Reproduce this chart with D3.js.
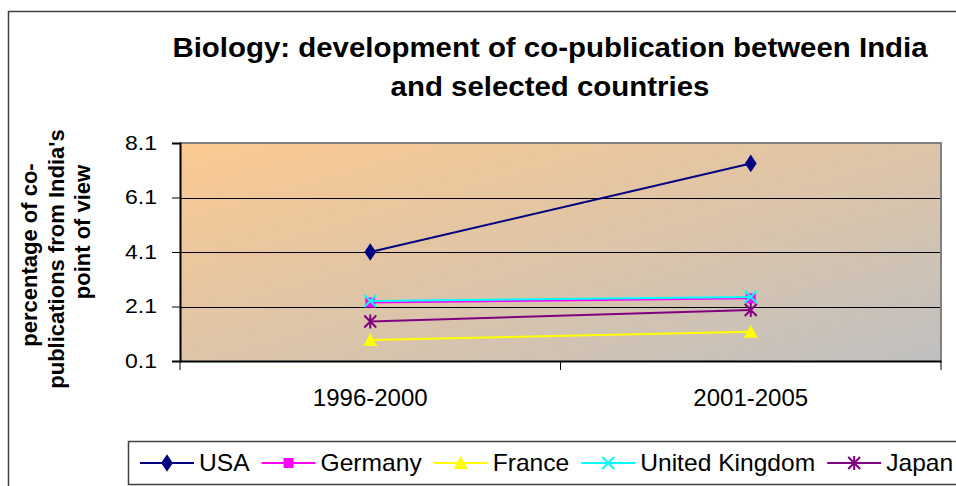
<!DOCTYPE html>
<html>
<head>
<meta charset="utf-8">
<script src="https://cdn.jsdelivr.net/npm/d3@7"></script>
<style>
  body { margin: 0; background: #fff; }
  text { font-family: "Liberation Sans", Arial, sans-serif; }
</style>
</head>
<body>
<div id="chart"></div>
<script>
// Data
const categories = ["1996-2000", "2001-2005"];
const usa = [4.1, 7.35];
const germany = [2.25, 2.4];
const france = [0.87, 1.17];
const uk = [2.3, 2.45];
const japan = [1.55, 1.97];
const yTicks = [0.1, 2.1, 4.1, 6.1, 8.1];

const series = [
    { name: "USA", values: usa, color: "#000080", marker: "diamond" },
    { name: "Germany", values: germany, color: "#FF00FF", marker: "square" },
    { name: "France", values: france, color: "#FFFF00", marker: "triangle" },
    { name: "United Kingdom", values: uk, color: "#00FFFF", marker: "x" },
    { name: "Japan", values: japan, color: "#800080", marker: "star" }
];

const W = 956, H = 486;
const plot = { left: 180, right: 941, top: 143, bottom: 361 };
// the original picture is a bit stretched sideways
const stretch = 1.09;

const svg = d3.select("#chart").append("svg")
    .attr("width", W)
    .attr("height", H);

// gradient for the plot area
const defs = svg.append("defs");
const grad = defs.append("linearGradient")
    .attr("id", "bg")
    .attr("x1", 0).attr("y1", 0).attr("x2", 1).attr("y2", 1);
grad.append("stop").attr("offset", "0%").attr("stop-color", "#FBC990");
grad.append("stop").attr("offset", "100%").attr("stop-color", "#C0C0C0");

// outer chart frame (runs off the right and bottom edges)
svg.append("rect")
    .attr("x", 8.5).attr("y", 11.5)
    .attr("width", 1000).attr("height", 600)
    .attr("fill", "none")
    .attr("stroke", "#404040")
    .attr("stroke-width", 1.5);

// scales
const x = d3.scaleBand()
    .domain(categories)
    .range([plot.left, plot.right]);

const y = d3.scaleLinear()
    .domain([0.1, 8.1])
    .range([plot.bottom, plot.top]);

// plot background
svg.append("rect")
    .attr("x", plot.left).attr("y", plot.top)
    .attr("width", plot.right - plot.left)
    .attr("height", plot.bottom - plot.top)
    .attr("fill", "url(#bg)");

// gridlines
svg.append("g")
    .selectAll("line")
    .data(yTicks)
    .join("line")
    .attr("x1", plot.left).attr("x2", plot.right)
    .attr("y1", d => Math.round(y(d)) + 0.5)
    .attr("y2", d => Math.round(y(d)) + 0.5)
    .attr("stroke", "#000")
    .attr("stroke-width", 1);

// plot border top/right in gray
svg.append("path")
    .attr("d", `M${plot.left},${plot.top} H${plot.right} V${plot.bottom}`)
    .attr("fill", "none")
    .attr("stroke", "#808080")
    .attr("stroke-width", 2);

// y axis
const yAxis = svg.append("g")
    .attr("transform", `translate(${plot.left},0)`)
    .call(d3.axisLeft(y).tickValues(yTicks).tickFormat(d3.format(".1f")).tickSize(8));
yAxis.select(".domain").attr("stroke", "#000").attr("stroke-width", 2);
yAxis.selectAll(".tick line").attr("stroke", "#000");
yAxis.selectAll("text")
    .attr("x", 0)
    .attr("transform", "translate(-23,0) scale(1.15,1)")
    .style("font-size", "20px")
    .attr("fill", "#000");

// x axis with ticks on category boundaries
const xAxis = svg.append("g")
    .attr("transform", `translate(0,${plot.bottom})`)
    .call(d3.axisBottom(x).tickSize(0).tickPadding(28));
xAxis.select(".domain").attr("stroke", "#000").attr("stroke-width", 2);
xAxis.selectAll("text")
    .style("font-size", "24px")
    .attr("fill", "#000");

const bounds = categories.map(c => x(c)).concat([plot.right]);
xAxis.selectAll(".bound")
    .data(bounds)
    .join("line")
    .attr("class", "bound")
    .attr("x1", d => d).attr("x2", d => d)
    .attr("y1", 0).attr("y2", 9)
    .attr("stroke", "#000")
    .attr("stroke-width", 1);

// markers
function drawMarker(g, type, color) {
    if (type === "diamond") {
        g.append("path").attr("d", d3.symbol(d3.symbolDiamond, 90)()).attr("fill", color)
            .attr("transform", "scale(1.15,1)");
    } else if (type === "square") {
        g.append("rect").attr("x", -5).attr("y", -5).attr("width", 10).attr("height", 10).attr("fill", color);
    } else if (type === "triangle") {
        g.append("path").attr("d", "M0,-7 L7,6 L-7,6 Z").attr("fill", color);
    } else if (type === "x") {
        g.append("path").attr("d", "M-6,-6 L6,6 M-6,6 L6,-6").attr("stroke", color).attr("stroke-width", 2);
    } else if (type === "star") {
        g.append("path").attr("d", "M-6,-6 L6,6 M-6,6 L6,-6 M0,-7 V7").attr("stroke", color).attr("stroke-width", 2);
    }
}

const cx = c => x(c) + x.bandwidth() / 2;
const line = d3.line()
    .x((d, i) => cx(categories[i]))
    .y(d => y(d));

series.forEach(s => {
    svg.append("path")
        .datum(s.values)
        .attr("d", line)
        .attr("fill", "none")
        .attr("stroke", s.color)
        .attr("stroke-width", 2);
    s.values.forEach((v, i) => {
        const g = svg.append("g").attr("transform", `translate(${cx(categories[i])},${y(v)})`);
        drawMarker(g, s.marker, s.color);
    });
});

// title
const title = svg.append("text")
    .attr("transform", `translate(550,0) scale(${stretch},1)`)
    .attr("text-anchor", "middle")
    .style("font-size", "27px")
    .style("font-weight", "bold");
title.append("tspan").attr("x", 0).attr("y", 57).text("Biology: development of co-publication between India");
title.append("tspan").attr("x", 0).attr("y", 96).text("and selected countries");

// y axis title (each line centred a little differently, as in the picture)
const yTitleLines = ["percentage of co-", "publications from India's", "point of view"];
const yTitleCentres = [255, 259, 232];
const yTitle = svg.append("text")
    .attr("transform", "rotate(-90)")
    .attr("text-anchor", "middle")
    .style("font-size", "22px")
    .style("font-weight", "bold");
yTitleLines.forEach((t, i) => {
    yTitle.append("tspan").attr("x", -yTitleCentres[i]).attr("y", 37 + i * 26.5).text(t);
});

// legend
const legend = svg.append("g");
legend.append("rect")
    .attr("x", 128.5).attr("y", 441.5)
    .attr("width", 900).attr("height", 43)
    .attr("fill", "#fff")
    .attr("stroke", "#404040")
    .attr("stroke-width", 1.5);

const legendStretch = 1.07;
let lx = 140;
series.forEach(s => {
    const item = legend.append("g").attr("transform", `translate(${lx},463)`);
    item.append("line")
        .attr("x1", 0).attr("x2", 54)
        .attr("stroke", s.color).attr("stroke-width", 2);
    drawMarker(item.append("g").attr("transform", "translate(27,0)"), s.marker, s.color);
    const t = item.append("text")
        .attr("transform", `translate(59,0) scale(${legendStretch},1)`)
        .attr("dy", "0.35em")
        .style("font-size", "23px")
        .text(s.name);
    lx += 59 + t.node().getComputedTextLength() * legendStretch + 12;
});
</script>
</body>
</html>
